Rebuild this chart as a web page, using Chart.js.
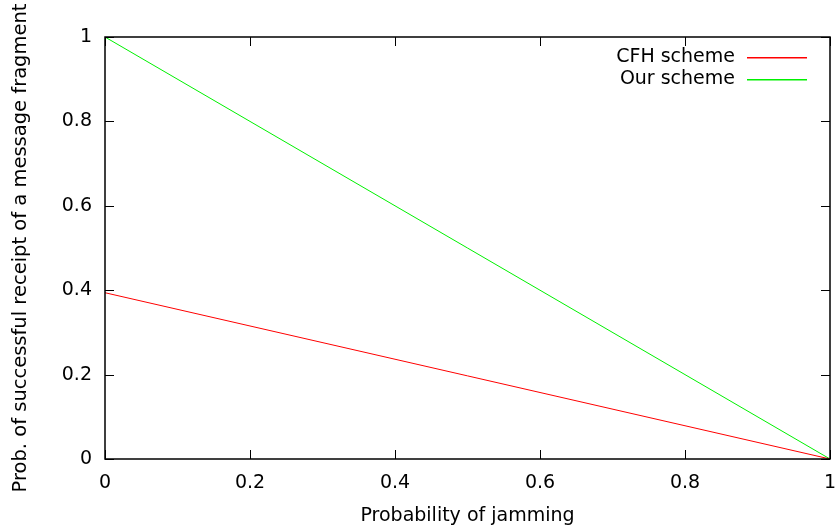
<!DOCTYPE html>
<html>
<head>
<meta charset="utf-8">
<script src="https://cdn.jsdelivr.net/npm/chart.js@4.4.1/dist/chart.umd.min.js"></script>
<style>
  html, body { margin: 0; padding: 0; background: #fff; }
  #wrap { width: 835px; height: 527px; }
</style>
</head>
<body>
<div id="wrap"><canvas id="c" width="835" height="527"></canvas></div>
<script>
// data
const jamProb = [0, 1]
const cfhScheme = [0.394, 0]
const ourScheme = [1, 0]
const xTicks = [0, 0.2, 0.4, 0.6, 0.8, 1]
const yTicks = [0, 0.2, 0.4, 0.6, 0.8, 1]
const seriesNames = ['CFH scheme', 'Our scheme']
const seriesColors = ['#ff0000', '#00f000']

const FONT = "'DejaVu Sans', sans-serif"
const FS = 19

function pts(ys) {
  return jamProb.map((x, i) => ({ x: x, y: ys[i] }))
}

// gnuplot-ish frame: box, inward ticks on all four sides, key with text then line
const frame = {
  id: 'frame',
  afterDatasetsDraw(chart) {
    const ctx = chart.ctx
    const a = chart.chartArea
    const xs = chart.scales.x, ys = chart.scales.y
    const tl = 9
    ctx.save()
    ctx.strokeStyle = '#000'
    ctx.lineWidth = 1
    ctx.beginPath()
    xTicks.forEach(v => {
      const px = Math.round(xs.getPixelForValue(v)) + 0.5
      ctx.moveTo(px, a.bottom); ctx.lineTo(px, a.bottom - tl)
      ctx.moveTo(px, a.top); ctx.lineTo(px, a.top + tl)
    })
    yTicks.forEach(v => {
      const py = Math.round(ys.getPixelForValue(v)) + 0.5
      ctx.moveTo(a.left, py); ctx.lineTo(a.left + tl, py)
      ctx.moveTo(a.right, py); ctx.lineTo(a.right - tl, py)
    })
    ctx.stroke()
    ctx.lineWidth = 1.5
    ctx.strokeRect(a.left, a.top, a.right - a.left, a.bottom - a.top)

    // key
    ctx.font = FS + 'px ' + FONT
    ctx.textAlign = 'right'
    ctx.textBaseline = 'middle'
    seriesNames.forEach((name, i) => {
      const y = a.top + 20 + i * 22
      ctx.fillStyle = '#000'
      ctx.fillText(name, a.right - 95, y)
      ctx.fillStyle = seriesColors[i]
      ctx.fillRect(a.right - 83, y, 60, 1.5)
    })
    ctx.restore()
  }
}

const fmt = v => String(Math.round(v * 10) / 10)

new Chart(document.getElementById('c'), {
  type: 'line',
  data: {
    datasets: [
      { label: seriesNames[0], data: pts(cfhScheme), borderColor: seriesColors[0], borderWidth: 1, pointRadius: 0, fill: false },
      { label: seriesNames[1], data: pts(ourScheme), borderColor: seriesColors[1], borderWidth: 1, pointRadius: 0, fill: false }
    ]
  },
  options: {
    responsive: false,
    animation: false,
    layout: { padding: { top: 37, right: 5, left: 0, bottom: 0 } },
    plugins: { legend: { display: false }, tooltip: { enabled: false } },
    scales: {
      x: {
        type: 'linear', min: 0, max: 1,
        afterBuildTicks: s => { s.ticks = xTicks.map(v => ({ value: v })) },
        afterFit: s => { s.height = 68; s.paddingLeft = 0; s.paddingRight = 0 },
        grid: { display: false, drawTicks: false },
        border: { display: false },
        ticks: { color: '#000', font: { family: FONT, size: FS }, padding: 13, maxRotation: 0, callback: fmt },
        title: { display: true, text: 'Probability of jamming', color: '#000', font: { family: FONT, size: FS }, padding: 0 }
      },
      y: {
        type: 'linear', min: 0, max: 1,
        afterBuildTicks: s => { s.ticks = yTicks.map(v => ({ value: v })) },
        afterFit: s => { s.width = 105; s.paddingTop = 0; s.paddingBottom = 0 },
        grid: { display: false, drawTicks: false },
        border: { display: false },
        ticks: { color: '#000', font: { family: FONT, size: FS }, padding: 13, callback: fmt },
        title: { display: true, text: 'Prob. of successful receipt of a message fragment', color: '#000', font: { family: FONT, size: 19.5 }, padding: 9 }
      }
    }
  },
  plugins: [frame]
})
</script>
</body>
</html>
